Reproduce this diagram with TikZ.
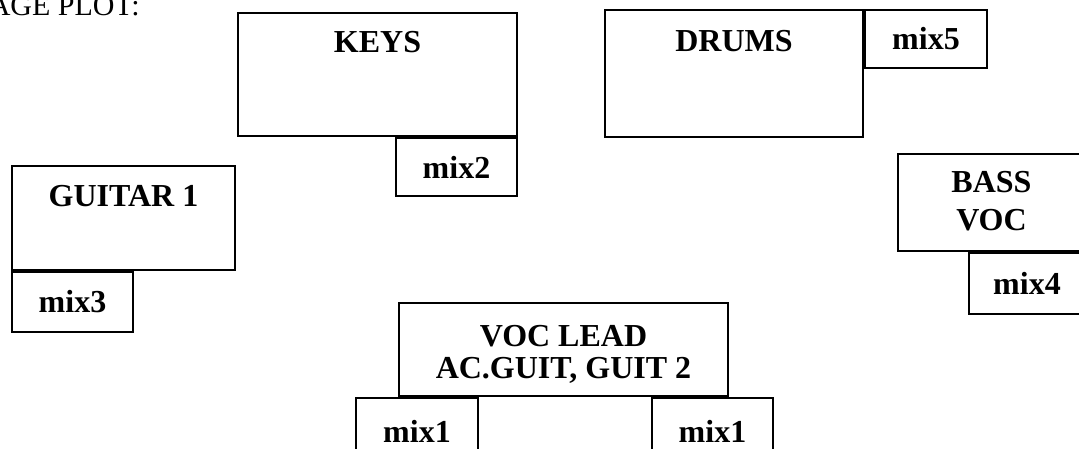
\documentclass[tikz,border=0pt]{standalone}
\usepackage{fontspec}
\setmainfont{Liberation Serif}
\usepackage{tikz}
\usetikzlibrary{positioning}

\tikzset{
  stagebox/.style={draw, line width=2pt, inner sep=0pt},
  mixbox/.style={stagebox, minimum width=121pt, minimum height=58pt,
    font=\bfseries\fontsize{32}{38}\selectfont},
  lbl/.style={font=\bfseries\fontsize{32}{38}\selectfont, align=center,
    inner sep=0pt, anchor=base}
}

\begin{document}
\begin{tikzpicture}[x=1pt,y=-1pt]
\useasboundingbox (0,0) rectangle (1079,448);
% heading, cut at the left edge
\node[anchor=base west, inner sep=0pt, font=\fontsize{30}{36}\selectfont] (title) at (-44,15) {STAGE PLOT:};

% keys
\node[stagebox, minimum width=279pt, minimum height=123pt] (keys) at (377.5,74.5) {};
\node[lbl] (keystxt) at ([yshift=-40pt]keys.north) {KEYS};
\node[mixbox, anchor=north east] (mix2) at (keys.south east) {mix2};

% drums
\node[stagebox, minimum width=258pt, minimum height=127pt] (drums) at (734,73.5) {};
\node[lbl] (drumstxt) at ([yshift=-42pt]drums.north) {DRUMS};
\node[mixbox, minimum width=122pt, anchor=north west] (mix5) at (drums.north east) {mix5};

% guitar 1
\node[stagebox, minimum width=223pt, minimum height=104pt] (guitar) at (123.5,218) {};
\node[lbl] (guitartxt) at ([yshift=-41pt]guitar.north) {GUITAR 1};
\node[mixbox, minimum height=60pt, anchor=north west] (mix3) at (guitar.south west) {mix3};

% bass (base = last line)
\node[stagebox, minimum width=187pt, minimum height=97pt] (bass) at (991.5,202.5) {};
\node[lbl] (basstxt) at ([yshift=-77pt]bass.north) {BASS\\VOC};
\node[mixbox, minimum width=116pt, minimum height=61pt, anchor=north east] (mix4) at (bass.south east) {mix4};

% front
\node[stagebox, minimum width=329pt, minimum height=93pt] (voc) at (563.5,349.5) {};
\node[lbl, font=\bfseries\fontsize{32}{32}\selectfont] (voctxt) at ([yshift=-76pt]voc.north) {VOC LEAD\\AC.GUIT, GUIT 2};
\node[mixbox, minimum width=122pt, minimum height=66pt, anchor=north west] (mix1a) at (355,397) {mix1};
\node[mixbox, minimum height=66pt, anchor=north west] (mix1b) at (651,397) {mix1};
\end{tikzpicture}
\end{document}
